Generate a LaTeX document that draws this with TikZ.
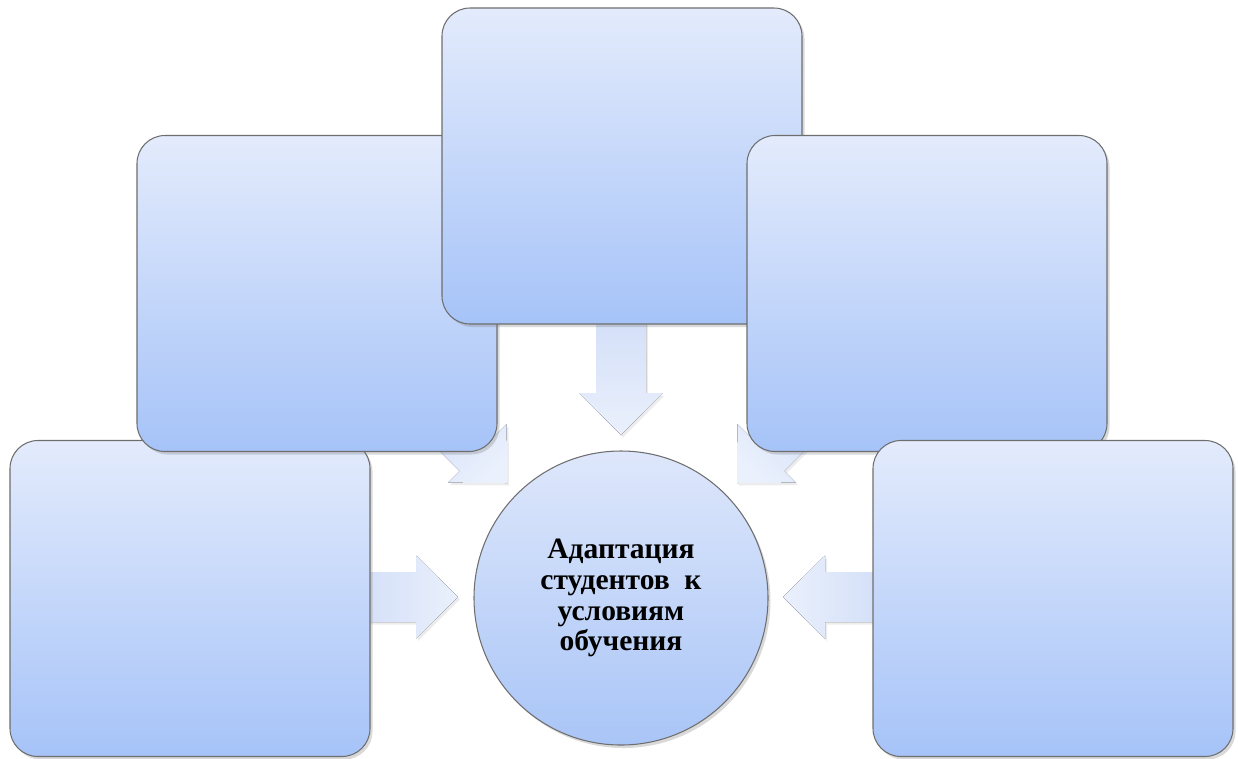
\documentclass[tikz,border=0pt]{standalone}
\usepackage{fontspec}
\setmainfont{Liberation Serif}
\usetikzlibrary{positioning, calc, shadows, backgrounds}

\definecolor{cardtop}{HTML}{E3EBFC}
\definecolor{cardbot}{HTML}{A6C3F8}
\definecolor{cardline}{HTML}{6E6E6E}
\definecolor{hubtop}{HTML}{DEE7FB}
\definecolor{hubbot}{HTML}{A9C5F7}
\definecolor{feedtail}{HTML}{D3DFF8}
\definecolor{feedtip}{HTML}{EAF0FC}

% block arrow: tip, angle, shaft length
\newcommand{\feedarrow}[3]{%
  \pgfmathsetmacro{\feedang}{#2+90}
  \begin{scope}[shift={(#1)}, rotate=#2]
    \fill[feed, shading angle=\feedang] (0,0) -- (-42,41.5) -- (-42,25) -- (-#3,25)
      -- (-#3,-25) -- (-42,-25) -- (-42,-41.5) -- cycle;
  \end{scope}}

\begin{document}
\begin{tikzpicture}[x=0.2mm, y=-0.2mm,
    card/.style={draw=cardline, line width=0.6pt, rounded corners=5.6mm,
        top color=cardtop, bottom color=cardbot,
        minimum width=72mm, minimum height=63.2mm,
        drop shadow={shadow xshift=0.5mm, shadow yshift=-0.6mm, opacity=0.3}},
    hub/.style={circle, draw=cardline, line width=0.6pt,
        top color=hubtop, bottom color=hubbot,
        minimum size=58.8mm, inner sep=0pt, align=center,
        font=\fontsize{16.8}{17.6}\selectfont\bfseries,
        drop shadow={shadow xshift=0.5mm, shadow yshift=-0.6mm, opacity=0.3}},
    feed/.style={left color=feedtail, right color=feedtip,
        drop shadow={shadow xshift=0.4mm, shadow yshift=-0.5mm, opacity=0.15}}]
\useasboundingbox (0,0) rectangle (1238,758);

% Outer boxes, back to front
\node[card] (lowL) at (190,598.5) {};
\node[card] (upL)  at (317,293.5) {};
\node[card] (top)  at (622,166) {};
\node[card] (upR)  at (927,293.5) {};
\node[card] (lowR) at (1053,598.5) {};

% Centre
\node[hub] (hub) at (621,598) {Адаптация\\студентов~~к\\условиям\\обучения};

% Arrow tips round the centre
\coordinate (tipT)  at ($(hub)+(0,-163)$);
\coordinate (tipUL) at ($(hub)+(-114,-115)$);
\coordinate (tipUR) at ($(hub)+(116,-115)$);
\coordinate (tipL)  at ($(hub)+(-163,-1)$);
\coordinate (tipR)  at ($(hub)+(162,-1)$);

% Arrows behind the boxes
\begin{pgfonlayer}{background}
\feedarrow{tipT}{-90}{120}
\feedarrow{tipUL}{-45}{100}
\feedarrow{tipUR}{-135}{100}
\feedarrow{tipL}{0}{100}
\feedarrow{tipR}{180}{100}
\end{pgfonlayer}
\end{tikzpicture}
\end{document}
